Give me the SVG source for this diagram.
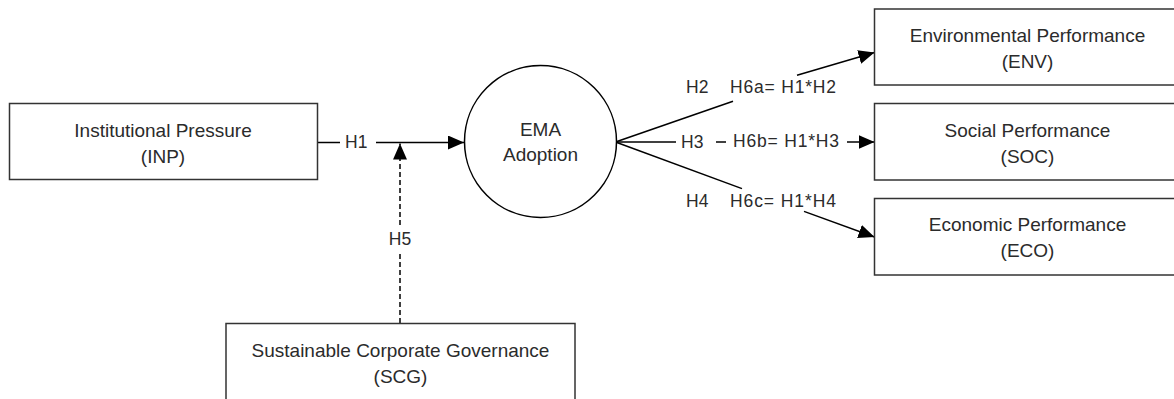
<svg xmlns="http://www.w3.org/2000/svg" width="1174" height="399" viewBox="0 0 1174 399">
<style>
.box{fill:#fff;stroke:#333;stroke-width:1.5}
.nt{font-family:"Liberation Sans",Arial,sans-serif;font-size:19px;fill:#2b2b2b;text-anchor:middle}
.lb{font-family:"Liberation Sans",Arial,sans-serif;font-size:17.5px;fill:#2b2b2b}
.ln{stroke:#000;stroke-width:1.5;fill:none}
.dash{stroke-dasharray:5,3}
</style>
<defs>
<marker id="arr" markerUnits="userSpaceOnUse" markerWidth="16" markerHeight="14" viewBox="0 0 16 14" refX="16" refY="7" orient="auto">
<path d="M0,0 L16,7 L0,14 z" fill="#000"/>
</marker>
</defs>
<rect width="1174" height="399" fill="#fff"/>
<g id="connectors">
<line class="ln" x1="317" y1="142.5" x2="340" y2="142.5"/>
<line class="ln" x1="376" y1="142.5" x2="464" y2="142.5" marker-end="url(#arr)"/>
<text class="lb" x="345" y="148">H1</text>
<line class="ln dash" x1="400" y1="323" x2="400" y2="253"/>
<line class="ln dash" x1="400" y1="225" x2="400" y2="143.5" marker-end="url(#arr)"/>
<text class="lb" x="400" y="245" text-anchor="middle">H5</text>
<line class="ln" x1="615.5" y1="142" x2="733" y2="101.3"/>
<line class="ln" x1="797" y1="75.2" x2="874.5" y2="52.5" marker-end="url(#arr)"/>
<text class="lb" x="686" y="93">H2</text>
<text class="lb" x="730" y="93" textLength="106">H6a= H1*H2</text>
<line class="ln" x1="615.5" y1="142" x2="676" y2="142"/>
<line class="ln" x1="716" y1="142" x2="726" y2="142"/>
<line class="ln" x1="847" y1="142" x2="874.5" y2="142" marker-end="url(#arr)"/>
<text class="lb" x="681" y="148">H3</text>
<text class="lb" x="733" y="147" textLength="106">H6b= H1*H3</text>
<line class="ln" x1="615.5" y1="142" x2="742" y2="188.6"/>
<line class="ln" x1="804" y1="211.4" x2="874.5" y2="237" marker-end="url(#arr)"/>
<text class="lb" x="686" y="207">H4</text>
<text class="lb" x="730" y="207" textLength="106">H6c= H1*H4</text>
</g>
<g id="inp">
<rect class="box" x="9.5" y="103.5" width="308" height="76"/>
<text class="nt" x="163" y="137">Institutional Pressure</text>
<text class="nt" x="163" y="163">(INP)</text>
</g>
<g id="ema">
<circle cx="540.5" cy="141.5" r="76" fill="#fff" stroke="#000" stroke-width="1.5"/>
<text class="nt" x="540.5" y="136">EMA</text>
<text class="nt" x="540.5" y="161">Adoption</text>
</g>
<g id="env">
<rect class="box" x="874.5" y="9" width="310" height="76"/>
<text class="nt" x="1027.5" y="42">Environmental Performance</text>
<text class="nt" x="1027.5" y="68">(ENV)</text>
</g>
<g id="soc">
<rect class="box" x="874.5" y="103.5" width="310" height="76.5"/>
<text class="nt" x="1027.5" y="136.5">Social Performance</text>
<text class="nt" x="1027.5" y="162.5">(SOC)</text>
</g>
<g id="eco">
<rect class="box" x="874.5" y="198.5" width="310" height="76.5"/>
<text class="nt" x="1027.5" y="231">Economic Performance</text>
<text class="nt" x="1027.5" y="257">(ECO)</text>
</g>
<g id="scg">
<rect class="box" x="226" y="323.5" width="349" height="80"/>
<text class="nt" x="400.5" y="357">Sustainable Corporate Governance</text>
<text class="nt" x="400.5" y="383">(SCG)</text>
</g>
</svg>
